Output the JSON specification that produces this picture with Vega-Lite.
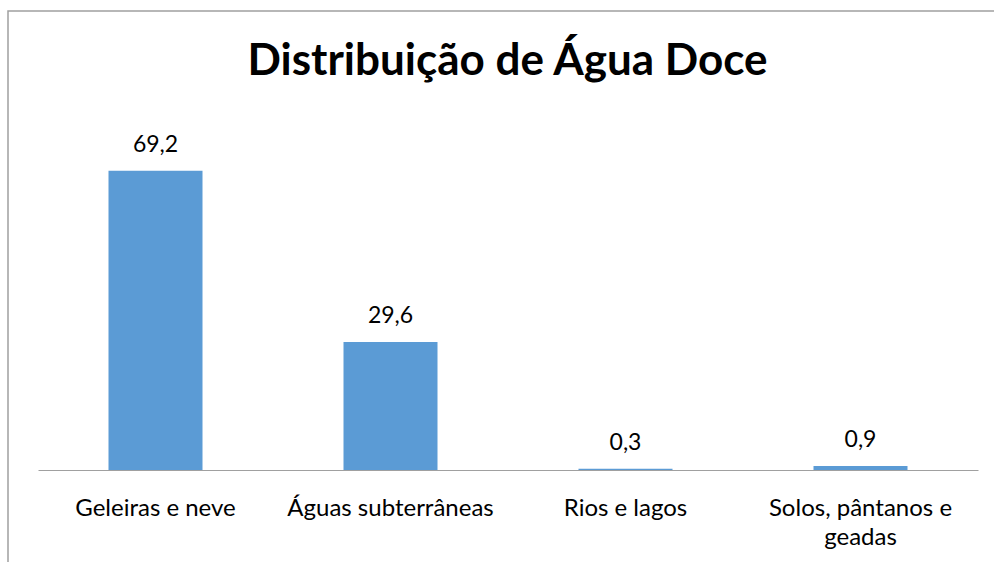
{
  "$schema": "https://vega.github.io/schema/vega-lite/v6.json",
  "width": 999,
  "height": 560,
  "autosize": {"type": "none"},
  "padding": {"left": 8, "top": 11, "right": 0, "bottom": 0},
  "background": "white",
  "config": {
    "view": {"stroke": "#A0A0A0", "strokeWidth": 1.5},
    "font": "Lato",
    "locale": {"number": {"decimal": ",", "thousands": ".", "grouping": [3], "currency": ["", " €"]}}
  },
  "title": {
    "text": "Distribuição de Água Doce",
    "font": "Lato",
    "fontSize": 44,
    "fontWeight": "bold",
    "color": "#000000",
    "anchor": "middle",
    "frame": "group",
    "offset": -73
  },
  "data": {
    "values": [
      {"categoria": "Geleiras e neve", "valor": 69.2},
      {"categoria": "Águas subterrâneas", "valor": 29.6},
      {"categoria": "Rios e lagos", "valor": 0.3},
      {"categoria": "Solos, pântanos e geadas", "valor": 0.9}
    ]
  },
  "encoding": {
    "x": {
      "field": "categoria",
      "type": "nominal",
      "sort": null,
      "scale": {"range": [30, 970], "paddingInner": 0.6, "paddingOuter": 0.3},
      "axis": {
        "title": null,
        "orient": "bottom",
        "offset": -101,
        "labelAngle": 0,
        "ticks": false,
        "domainColor": "#A0A0A0",
        "domainWidth": 1,
        "labelFont": "Lato",
        "labelFontSize": 24,
        "labelColor": "#000000",
        "labelPadding": 26,
        "labelLineHeight": 29,
        "labelLimit": 300,
        "labelExpr": "datum.label == 'Solos, pântanos e geadas' ? ['Solos, pântanos e', 'geadas'] : datum.label"
      }
    },
    "y": {
      "field": "valor",
      "type": "quantitative",
      "scale": {"domain": [0, 80], "range": [459, 113]},
      "axis": null
    }
  },
  "layer": [
    {"mark": {"type": "bar", "color": "#5B9BD5"}},
    {
      "mark": {"type": "text", "baseline": "alphabetic", "dy": -19, "fontSize": 23, "font": "Lato", "color": "#000000"},
      "encoding": {"text": {"field": "valor", "type": "quantitative", "format": ".1f"}}
    }
  ]
}
